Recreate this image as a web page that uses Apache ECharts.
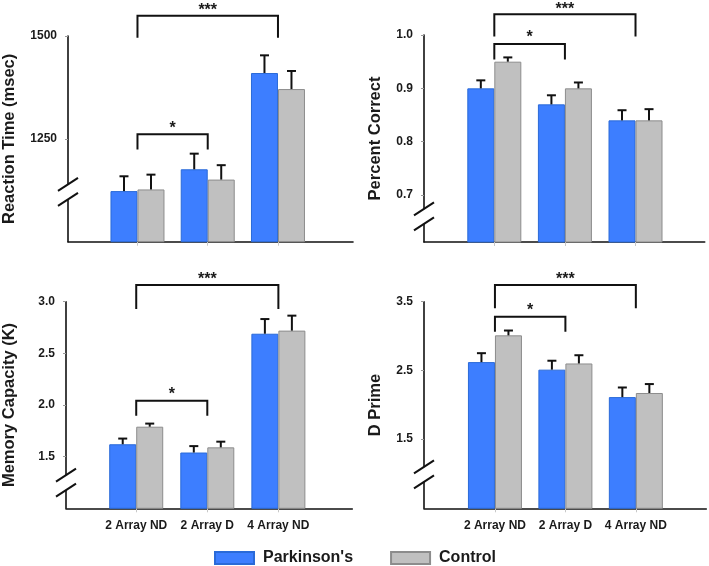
<!DOCTYPE html>
<html>
<head>
<meta charset="utf-8">
<script src="https://cdn.jsdelivr.net/npm/echarts@6/dist/echarts.min.js"></script>
<style>html,body{margin:0;padding:0;background:#fff}#c{width:709px;height:566px}</style>
</head>
<body>
<div id="c"></div>
<script>
// ---------- data ----------
const categories = ['2 Array ND', '2 Array D', '4 Array ND'];
const groupNames = ["Parkinson's", 'Control'];

// Reaction time (msec)
const rtParkinson = [1123, 1176, 1410];
const rtParkinsonErr = [36, 38, 43];
const rtControl = [1127, 1151, 1371];
const rtControlErr = [36, 35, 44];
const rtTicks = [1250, 1500];

// Percent correct
const pcParkinson = [0.90, 0.87, 0.84];
const pcParkinsonErr = [0.015, 0.017, 0.019];
const pcControl = [0.95, 0.90, 0.84];
const pcControlErr = [0.008, 0.011, 0.021];
const pcTicks = [0.7, 0.8, 0.9, 1.0];

// Memory capacity (K)
const mcParkinson = [1.62, 1.54, 2.69];
const mcParkinsonErr = [0.055, 0.062, 0.142];
const mcControl = [1.79, 1.59, 2.72];
const mcControlErr = [0.03, 0.055, 0.145];
const mcTicks = [1.5, 2.0, 2.5, 3.0];

// D prime
const dpParkinson = [2.62, 2.51, 2.11];
const dpParkinsonErr = [0.13, 0.13, 0.14];
const dpControl = [3.01, 2.60, 2.17];
const dpControlErr = [0.07, 0.12, 0.13];
const dpTicks = [1.5, 2.5, 3.5];

// significance brackets: [fromCategory, toCategory, barValue, legValue, starValue]
const rtBrackets = [[0, 2, 1549, 1496, 1570], [0, 1, 1261, 1224, 1282]];
const pcBrackets = [[0, 2, 1.039, 0.997, 1.054], [0, 1, 0.983, 0.954, 1.0]];
const mcBrackets = [[0, 2, 3.162, 2.929, 3.242], [0, 1, 2.042, 1.897, 2.129]];
const dpBrackets = [[0, 2, 3.743, 3.403, 3.865], [0, 1, 3.281, 3.062, 3.418]];
const bracketLabels = ['***', '*'];

// ---------- layout / style ----------
const FONT = "'Liberation Sans', Arial, sans-serif";
const TXT = '#1a1a1a';
const BLUE = '#3d7eff';
const GRAY = '#c0c0c0';
const BAR_W = 27;

const panels = [
  { grid: {left: 67, top: 36, width: 286, height: 205.7}, xMin: -0.989, xMax: 3.068,
    yMin: 1000, yMax: 1500, ticks: rtTicks, fmt: v => String(Math.round(v)), name: 'Reaction Time (msec)', nameGap: 50,
    p: rtParkinson, pe: rtParkinsonErr, c: rtControl, ce: rtControlErr, br: rtBrackets, brk: 1121, xLabels: false },
  { grid: {left: 424, top: 35, width: 280.7, height: 207}, xMin: -0.996, xMax: 2.98,
    yMin: 0.612, yMax: 1.0, ticks: pcTicks, fmt: v => v.toFixed(1), name: 'Percent Correct', nameGap: 40,
    p: pcParkinson, pe: pcParkinsonErr, c: pcControl, ce: pcControlErr, br: pcBrackets, brk: 0.66, xLabels: false },
  { grid: {left: 65.7, top: 301.7, width: 286.6, height: 206.6}, xMin: -0.988, xMax: 3.04,
    yMin: 1.0, yMax: 3.0, ticks: mcTicks, fmt: v => v.toFixed(1), name: 'Memory Capacity (K)', nameGap: 48,
    p: mcParkinson, pe: mcParkinsonErr, c: mcControl, ce: mcControlErr, br: mcBrackets, brk: 1.248, xLabels: true },
  { grid: {left: 424, top: 301.7, width: 282.3, height: 206.6}, xMin: -1.007, xMax: 3.0,
    yMin: 0.49, yMax: 3.5, ticks: dpTicks, fmt: v => v.toFixed(1), name: 'D Prime', nameGap: 40,
    p: dpParkinson, pe: dpParkinsonErr, c: dpControl, ce: dpControlErr, br: dpBrackets, brk: 0.985, xLabels: true }
];

const grids = [], xAxes = [], yAxes = [], series = [];

panels.forEach((pn, i) => {
  grids.push(Object.assign({containLabel: false}, pn.grid));
  xAxes.push({
    type: 'value', gridIndex: i, min: pn.xMin, max: pn.xMax,
    splitLine: {show: false},
    axisLine: {show: true, onZero: false, lineStyle: {color: '#111', width: 1.6}},
    axisTick: {show: true, customValues: [0, 1, 2], length: 4, lineStyle: {color: '#c8c8c8', width: 1}},
    axisLabel: {show: pn.xLabels, customValues: [0, 1, 2], formatter: v => categories[Math.round(v)] || '',
      margin: 11, color: TXT, fontFamily: FONT, fontWeight: 'bold', fontSize: 12}
  });
  yAxes.push({
    type: 'value', gridIndex: i, min: pn.yMin, max: pn.yMax,
    splitLine: {show: false},
    axisLine: {show: true, onZero: false, lineStyle: {color: '#111', width: 1.6}},
    axisTick: {show: true, customValues: pn.ticks, length: 3, lineStyle: {color: '#999', width: 1}},
    axisLabel: {customValues: pn.ticks, formatter: pn.fmt, margin: 11, color: TXT,
      fontFamily: FONT, fontWeight: 'bold', fontSize: 12},
    name: pn.name, nameLocation: 'middle', nameGap: pn.nameGap,
    nameTextStyle: {color: TXT, fontFamily: FONT, fontWeight: 'bold', fontSize: 16.5}
  });

  const groups = [
    {vals: pn.p, errs: pn.pe, name: groupNames[0], color: BLUE, border: '#2a6ad8', side: -1},
    {vals: pn.c, errs: pn.ce, name: groupNames[1], color: GRAY, border: '#8c8c8c', side: 1}
  ];
  groups.forEach(g => {
    series.push({
      type: 'bar', name: g.name, xAxisIndex: i, yAxisIndex: i,
      data: g.vals.map((v, k) => [k, v]),
      barWidth: BAR_W, barGap: '0%',
      itemStyle: {color: g.color, borderColor: g.border, borderWidth: 1},
      emphasis: {disabled: true}, animation: false, z: 2
    });
  });
  groups.forEach(g => {
    series.push({
      type: 'custom', xAxisIndex: i, yAxisIndex: i, silent: true, clip: false, animation: false, z: 3,
      encode: {x: 0, y: 1},
      data: g.vals.map((v, k) => [k, v, g.errs[k]]),
      renderItem: (params, api) => {
        const base = api.coord([api.value(0), api.value(1)]);
        const top = api.coord([api.value(0), api.value(1) + api.value(2)]);
        const x = base[0] + g.side * BAR_W / 2;
        const st = {stroke: '#111', lineWidth: 2};
        return {type: 'group', children: [
          {type: 'line', shape: {x1: x, y1: base[1], x2: x, y2: top[1]}, style: st},
          {type: 'line', shape: {x1: x - 4.5, y1: top[1], x2: x + 4.5, y2: top[1]}, style: st}
        ]};
      }
    });
  });
  // significance brackets
  series.push({
    type: 'custom', xAxisIndex: i, yAxisIndex: i, silent: true, clip: false, animation: false, z: 4,
    encode: {x: 0, y: 2},
    data: pn.br,
    renderItem: (params, api) => {
      const a = api.value(0), b = api.value(1), yb = api.value(2), yl = api.value(3), ys = api.value(4);
      const p1 = api.coord([a, yl]), p2 = api.coord([a, yb]), p3 = api.coord([b, yb]), p4 = api.coord([b, yl]);
      const ts = api.coord([(a + b) / 2, ys]);
      return {type: 'group', children: [
        {type: 'polyline', shape: {points: [p1, p2, p3, p4]}, style: {stroke: '#111', lineWidth: 2, fill: null}},
        {type: 'text', style: {text: bracketLabels[params.dataIndex], x: ts[0], y: ts[1] + 3,
          align: 'center', verticalAlign: 'middle', fill: TXT,
          font: "bold 16px 'Liberation Sans', Arial, sans-serif"}}
      ]};
    }
  });
  // axis break marks
  series.push({
    type: 'custom', xAxisIndex: i, yAxisIndex: i, silent: true, clip: false, animation: false, z: 5,
    encode: {x: 0, y: 1},
    data: [[pn.xMin, pn.brk]],
    renderItem: (params, api) => {
      const c = api.coord([api.value(0), api.value(1)]);
      const dx = 10, dy = 6.5, h = 7.5;
      const st = {stroke: '#111', lineWidth: 2};
      return {type: 'group', children: [
        {type: 'polygon', shape: {points: [[c[0] - dx, c[1] + dy - h], [c[0] + dx, c[1] - dy - h], [c[0] + dx, c[1] - dy + h], [c[0] - dx, c[1] + dy + h]]},
          style: {fill: '#fff', stroke: null}},
        {type: 'line', shape: {x1: c[0] - dx, y1: c[1] + dy - h, x2: c[0] + dx, y2: c[1] - dy - h}, style: st},
        {type: 'line', shape: {x1: c[0] - dx, y1: c[1] + dy + h, x2: c[0] + dx, y2: c[1] - dy + h}, style: st}
      ]};
    }
  });
});

const chart = echarts.init(document.getElementById('c'), null, {renderer: 'canvas'});
chart.setOption({
  animation: false,
  backgroundColor: '#fff',
  grid: grids, xAxis: xAxes, yAxis: yAxes,
  legend: {
    data: groupNames, left: 209, top: 545, orient: 'horizontal', icon: 'rect',
    itemWidth: 39, itemHeight: 12, itemGap: 37,
    textStyle: {color: TXT, fontFamily: FONT, fontWeight: 'bold', fontSize: 16, padding: [0, 0, 0, 4]},
    selectedMode: false
  },
  series: series
});
</script>
</body>
</html>
